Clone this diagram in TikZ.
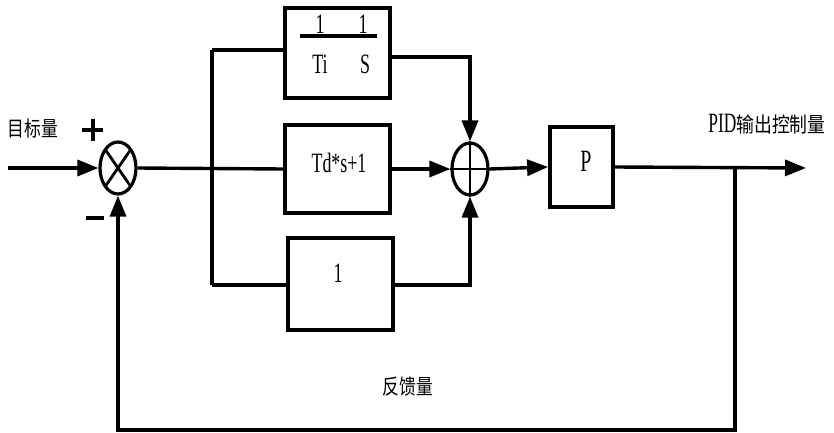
\documentclass[tikz,border=0pt]{standalone}
\usepackage{graphicx}
\usepackage{fontspec}
\setmainfont{Liberation Serif}
\newfontfamily\cjk{Noto Sans CJK SC}
\usetikzlibrary{arrows.meta,shapes.geometric}
\newcommand{\condtxt}[2]{\scalebox{#1}[1]{#2}}
\begin{document}
\begin{tikzpicture}[x=1pt,y=-1pt,
  wire/.style={line width=3.4pt},
  arr/.style={wire,-{Triangle[length=21pt,width=16pt]}},
  blk/.style={draw,line width=3.8pt,rectangle,inner sep=0pt},
  junc/.style={draw,line width=3.2pt,ellipse,inner sep=0pt,minimum width=36pt,minimum height=52pt},
  lab/.style={inner sep=0pt,font=\fontsize{28}{30}\selectfont},
  clab/.style={inner sep=0pt,font=\cjk\fontsize{21}{23}\selectfont}]
\useasboundingbox (0,0) rectangle (834,433);
% junctions
\node[junc] (cmp) at (118,168) {};
\draw[line width=2.8pt] ([shift={(-12.7,-18.4)}]cmp.center) -- ([shift={(12.7,18.4)}]cmp.center);
\draw[line width=2.8pt] ([shift={(-12.7,18.4)}]cmp.center) -- ([shift={(12.7,-18.4)}]cmp.center);
\node[junc] (sum) at (470,169) {};
\draw[line width=2.8pt] (sum.north) -- (sum.south);
\draw[line width=2.8pt] (sum.west) -- (sum.east);
% blocks
\node[blk,minimum width=105pt,minimum height=90pt] (bi) at (337.5,53) {};
\node[blk,minimum width=105pt,minimum height=88pt] (bd) at (337.5,169) {};
\node[lab] (bdt) at (339,163) {\condtxt{0.64}{Td*s+1}};
\node[blk,minimum width=105pt,minimum height=92pt] (bp) at (340.5,284) {};
\node[lab] (bpt) at (338,273) {\condtxt{0.64}{1}};
\node[blk,minimum width=63pt,minimum height=80pt] (bP) at (581.5,167) {};
\node[lab,font=\fontsize{31}{33}\selectfont] (bPt) at (586,161) {\condtxt{0.64}{P}};
% integral block content
\coordinate (fl) at (300,36);
\coordinate (fr) at (377,36);
\draw[line width=3.8pt] (fl) -- (fr);
\node[lab] (n1) at (320,24) {\condtxt{0.64}{1}};
\node[lab] (n2) at (363,24) {\condtxt{0.64}{1}};
\node[lab] (d1) at (320,64) {\condtxt{0.64}{Ti}};
\node[lab] (d2) at (365,64) {\condtxt{0.64}{S}};
% coordinates
\coordinate (in) at (8,168);
\coordinate (brt) at (212,50);
\coordinate (brb) at (212,285);
\coordinate (it) at (470,57);
\coordinate (ib) at (470,285);
\coordinate (out) at (806,168);
\coordinate (fb) at (735,168);
\coordinate (fb1) at (735,430);
\coordinate (fb2) at (118,430);
% wires
\draw[arr] (in) -- (cmp.west);
\draw[wire] (cmp.east) -- (bd.west);
\draw[wire] (brt) -- (brb);
\draw[wire] (brt) -- (bi.west |- brt);
\draw[wire] (brb) -- (bp.west |- brb);
\draw[arr] (bd.east) -- (sum.west);
\draw[arr] (bi.east |- it) -- (it) -- (sum.north);
\draw[arr] (bp.east |- ib) -- (ib) -- (sum.south);
\draw[arr] (sum.east) -- (bP.west);
\draw[arr] (bP.east) -- (out);
\draw[arr] (fb) -- (fb1) -- (fb2) -- (cmp.south);
% plus / minus signs
\coordinate (ph1) at (82,130);
\coordinate (ph2) at (103,130);
\coordinate (pv1) at (92.5,119);
\coordinate (pv2) at (92.5,141);
\draw[line width=4pt] (ph1) -- (ph2);
\draw[line width=4pt] (pv1) -- (pv2);
\coordinate (m1) at (86,218);
\coordinate (m2) at (104,218);
\draw[line width=4.5pt] (m1) -- (m2);
% labels
\node[clab] (tin) at (33,129) {\condtxt{0.8}{目标量}};
\node[lab] (tout) at (767,124) {\condtxt{0.62}{PID}\condtxt{0.85}{\cjk\fontsize{21}{22}\selectfont 输出控制量}};
\node[clab] (tfb) at (408,387) {\condtxt{0.8}{反馈量}};
\end{tikzpicture}
\end{document}
